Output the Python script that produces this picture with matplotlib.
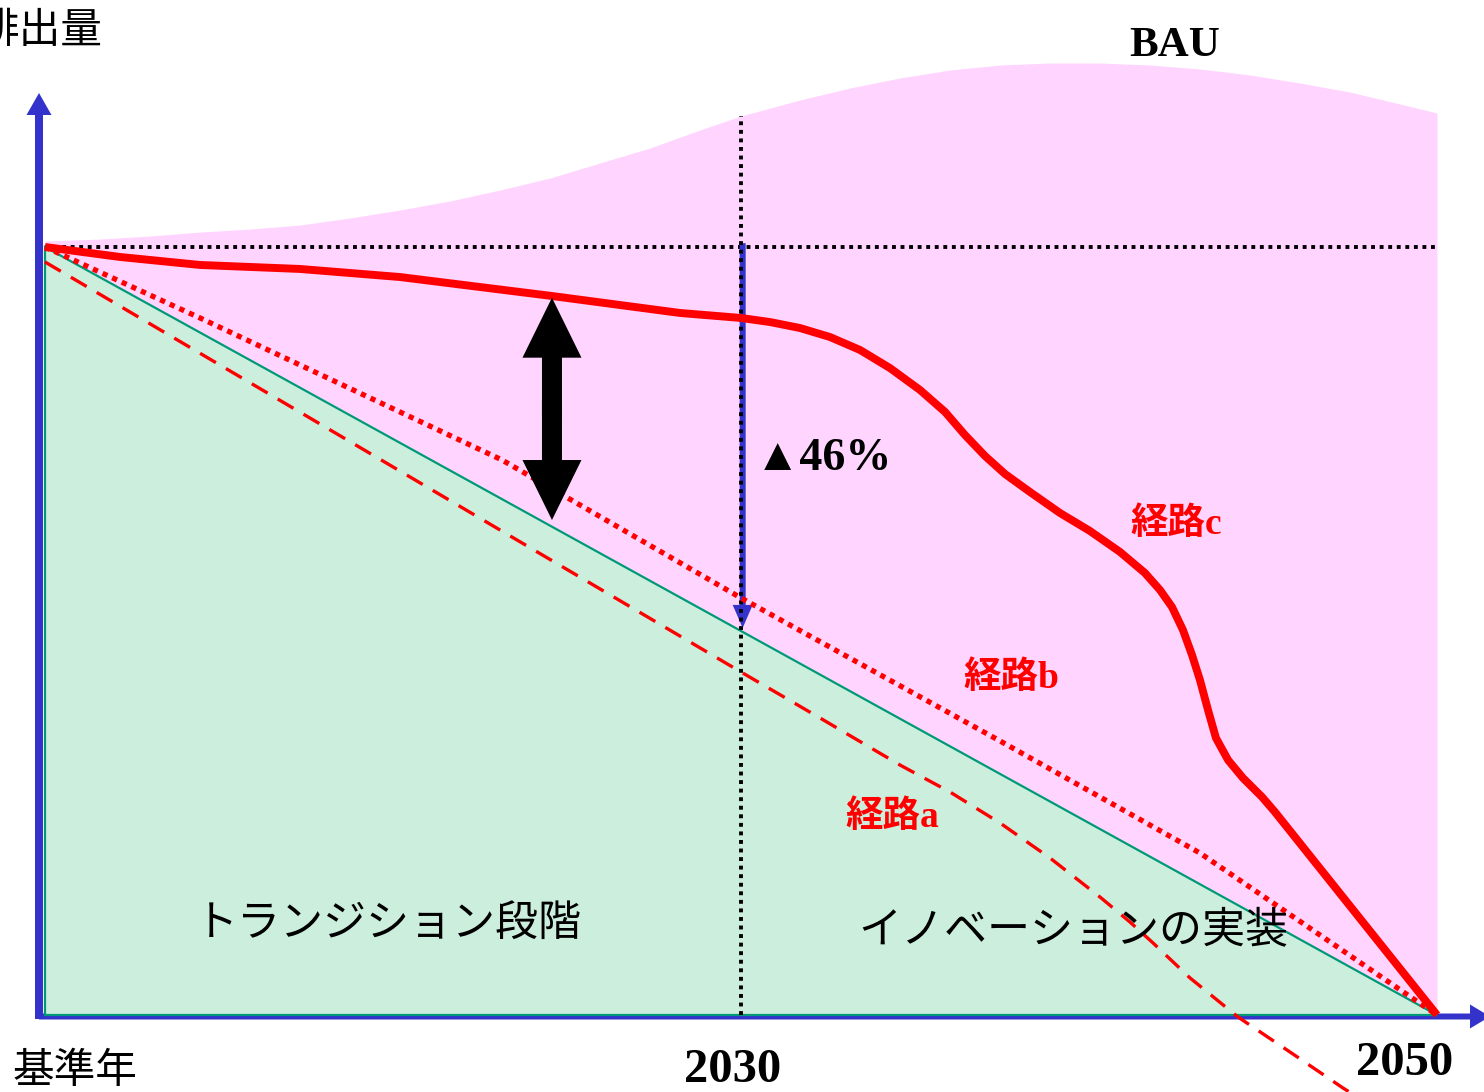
import numpy as np
import matplotlib.pyplot as plt

# time axis: base year = 0, 2030 = 0.5, 2050 = 1.0 ; emissions: base year = 100
x_labels = ["基準年", "2030", "2050"]
x_ticks = [0.0, 0.5, 1.0]

bau_x = [0.0, 0.0395, 0.0754, 0.1114, 0.1473, 0.1832, 0.2191, 0.2550, 0.2909,
         0.3269, 0.3628, 0.3987, 0.4346, 0.4705, 0.5, 0.5424, 0.5783, 0.6142,
         0.6501, 0.6861, 0.7220, 0.7579, 0.7938, 0.8297, 0.8657, 0.9016,
         0.9375, 0.9734, 1.0]
bau_y = [100.78, 101.04, 101.43, 101.95, 102.34, 102.86, 103.78, 104.82, 105.99,
         107.42, 108.98, 110.94, 112.89, 115.23, 117.06, 119.14, 120.70, 122.01,
         123.05, 123.70, 123.96, 123.96, 123.70, 123.18, 122.40, 121.35,
         120.18, 118.62, 117.45]

target_x = [0.0, 1.0]
target_y = [100.0, 0.0]

path_a_x = [0.0, 0.2550, 0.5, 0.5568, 0.6142, 0.6501, 0.6861, 0.7220, 0.7579,
            0.7794, 0.7960, 0.8226, 0.8570, 0.8944, 0.9325, 0.9519]
path_a_y = [98.05, 70.83, 44.66, 38.67, 32.55, 29.04, 25.0, 20.44, 15.36,
            12.11, 9.38, 4.82, -0.26, -4.82, -9.51, -11.72]

path_b_x = [0.0, 0.1114, 0.3283, 0.5, 0.6861, 0.8297, 1.0]
path_b_y = [100.0, 90.76, 72.27, 54.30, 35.68, 21.09, 0.0]

path_c_x = [0.0, 0.0539, 0.1114, 0.1832, 0.2550, 0.3642, 0.4562, 0.5, 0.5208,
            0.5424, 0.5639, 0.5855, 0.6070, 0.6286, 0.6466, 0.6609, 0.6753,
            0.6897, 0.7076, 0.7292, 0.7507, 0.7723, 0.7902, 0.8010, 0.8096,
            0.8175, 0.8240, 0.8297, 0.8355, 0.8412, 0.8499, 0.8606, 0.8743,
            0.8836, 1.0]
path_c_y = [100.0, 98.70, 97.66, 97.14, 96.09, 93.62, 91.41, 90.76, 90.23,
            89.45, 88.28, 86.59, 84.24, 81.38, 78.52, 75.52, 72.79,
            70.44, 68.10, 65.36, 63.02, 60.29, 57.55, 55.34, 53.13,
            50.13, 46.88, 43.62, 39.71, 36.07, 33.20, 30.86, 28.39,
            26.43, 0.0]

reduction_2030_top = 100.5
reduction_2030_tip = 50.4
gap_arrow_x = 0.3642
gap_arrow_top = 93.4
gap_arrow_bottom = 64.45

PINK = "#FFD5FF"
GREEN = "#CCEEDD"
TEAL = "#009977"
BLUE = "#3333CC"
RED = "#FF0000"
CJK = ["Noto Sans CJK JP", "DejaVu Sans"]
SERIF = ["Liberation Serif", "Noto Sans CJK JP", "DejaVu Sans"]

fig = plt.figure(figsize=(14.84, 10.92), dpi=100)
ax = fig.add_axes([0, 0, 1, 1])
px_x = 1392.0   # pixels per x unit
px_y = 7.68     # pixels per emission unit
ax.set_xlim(-45 / px_x, 1439 / px_x)
ax.set_ylim(-77 / px_y, 1015 / px_y)
ax.axis("off")

# areas
ax.fill_between(bau_x, 0, bau_y, color=PINK, lw=0, zorder=1)
ax.fill(target_x + [0.0], target_y + [0.0], facecolor=GREEN, edgecolor=TEAL,
        lw=1.6, zorder=2)

# axes arrows
ax.arrow(-6 / px_x, -4 / px_y, 0, (1019 - 93) / px_y, width=8 / px_x,
         head_width=25 / px_x, head_length=22 / px_y, length_includes_head=True,
         color=BLUE, lw=0, zorder=1.5)
ax.arrow(-6 / px_x, -1.5 / px_y, (1490 - 39) / px_x, 0, width=6 / px_y,
         head_width=24 / px_y, head_length=20 / px_x, length_includes_head=True,
         color=BLUE, lw=0, zorder=1.5)

# reference dotted lines
ax.plot([0, 1], [100, 100], color="black", lw=2.8, ls=(0, (1, 1.2)), zorder=3)
ax.plot([0.5, 0.5], [0, bau_y[bau_x.index(0.5)]], color="black", lw=2.8,
        ls=(0, (1, 1.2)), zorder=3.2)

# pathways
ax.plot(path_a_x, path_a_y, color=RED, lw=2.4, ls=(0, (5.5, 3.5)), zorder=4)
ax.plot(path_b_x, path_b_y, color=RED, lw=3.8, ls=(0, (1, 1)), zorder=4)
ax.plot(path_c_x, path_c_y, color=RED, lw=5.7, solid_joinstyle="round",
        solid_capstyle="butt", zorder=5)

# 2030 reduction arrow
ax.arrow(0.5012, reduction_2030_top, 0, reduction_2030_tip - reduction_2030_top,
         width=6 / px_x, head_width=20 / px_x, head_length=23 / px_y,
         length_includes_head=True, color=BLUE, lw=0, zorder=3.1)

# gap double arrow (the two halves overlap a little in the middle)
mid = (gap_arrow_top + gap_arrow_bottom) / 2
for end in (gap_arrow_top, gap_arrow_bottom):
    start = mid - np.sign(end - mid) * 1.0
    ax.arrow(gap_arrow_x, start, 0, end - start, width=20 / px_x,
             head_width=59 / px_x, head_length=60 / px_y,
             length_includes_head=True, color="black", lw=0, zorder=6)

# texts
ax.text(58 / px_x, 128.0, "排出量", family=CJK, fontsize=30, ha="right",
        va="center")
ax.text(x_ticks[0] + 30 / px_x, -7.4, x_labels[0], family=CJK, fontsize=30,
        ha="center", va="center")
ax.text(x_ticks[1] - 8 / px_x, -7.2, x_labels[1], family=SERIF, fontsize=35,
        weight="bold", ha="center", va="center")
ax.text(x_ticks[2] - 32 / px_x, -6.3, x_labels[2], family=SERIF, fontsize=35,
        weight="bold", ha="center", va="center")
ax.text(0.8118, 126.2, "BAU", family=SERIF, fontsize=31, weight="bold",
        ha="center", va="center")
ax.text(0.5101, 72.4, "▲46%", family=SERIF, fontsize=33, weight="bold",
        ha="left", va="center", zorder=7)
ax.text(0.780, 63.9, "経路c", family=SERIF, fontsize=27, weight="bold",
        color=RED, ha="left", va="center", zorder=7)
ax.text(0.660, 43.8, "経路b", family=SERIF, fontsize=27, weight="bold",
        color=RED, ha="left", va="center", zorder=7)
ax.text(0.575, 25.7, "経路a", family=SERIF, fontsize=27, weight="bold",
        color=RED, ha="left", va="center", zorder=7)
ax.text(0.2464, 11.9, "トランジション段階", family=CJK, fontsize=31,
        ha="center", va="center", zorder=7)
ax.text(0.7385, 11.1, "イノベーションの実装", family=CJK, fontsize=31,
        ha="center", va="center", zorder=7)

fig.savefig("out.png", dpi=100)
